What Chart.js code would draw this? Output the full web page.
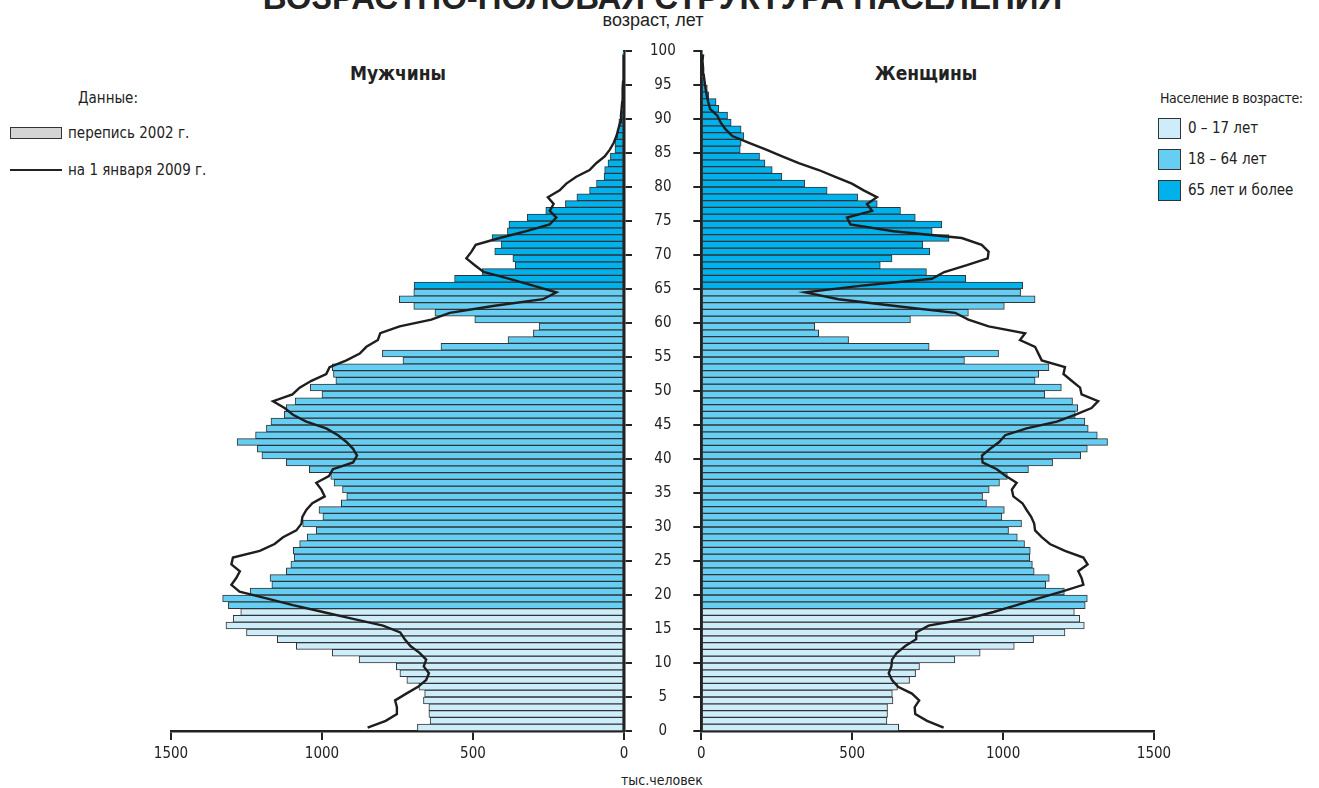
<!DOCTYPE html>
<html>
<head>
<meta charset="utf-8">
<script src="https://cdn.jsdelivr.net/npm/chart.js@4.4.1/dist/chart.umd.min.js"></script>
<style>
  body { margin: 0; width: 1319px; height: 788px; overflow: hidden; background: #fff; position: relative;
         font-family: 'Liberation Sans Narrow', 'DejaVu Sans Condensed', 'Liberation Sans', sans-serif; color: #222; }
  .t { position: absolute; white-space: nowrap; line-height: 20px; }
  canvas { position: absolute; top: 0; }
  .box { position: absolute; border: 1px solid #333; box-sizing: border-box; }
</style>
</head>
<body>
<div class="t" style="left:3px;width:1319px;text-align:center;top:-18px;font:bold 33px 'Liberation Sans',Arial,sans-serif;line-height:32px">ВОЗРАСТНО-ПОЛОВАЯ СТРУКТУРА НАСЕЛЕНИЯ</div>
<div class="t" style="left:553px;width:200px;text-align:center;top:10px;font:18px 'Liberation Sans',Arial,sans-serif">возраст, лет</div>
<div class="t" style="left:298px;width:200px;text-align:center;top:63px;font-weight:bold;font-size:19px">Мужчины</div>
<div class="t" style="left:826px;width:200px;text-align:center;top:63px;font-weight:bold;font-size:19px">Женщины</div>

<div class="t" style="left:78px;top:88px;font-size:15px">Данные:</div>
<div class="box" style="left:10px;top:127px;width:52px;height:12px;background:#d4d4d4"></div>
<div class="t" style="left:68px;top:123px;font-size:15px">перепись 2002 г.</div>
<div style="position:absolute;left:10px;top:169px;width:52px;height:2px;background:#222"></div>
<div class="t" style="left:68px;top:160px;font-size:15px">на 1 января 2009 г.</div>

<div class="t" style="left:1160px;top:88px;font-size:14px;letter-spacing:-0.4px">Население в возрасте:</div>
<div class="box" style="left:1158px;top:118px;width:23px;height:21px;background:#cdedfb"></div>
<div class="t" style="left:1188px;top:118px;font-size:15px">0 – 17 лет</div>
<div class="box" style="left:1158px;top:149px;width:23px;height:21px;background:#66cdf3"></div>
<div class="t" style="left:1188px;top:149px;font-size:15px">18 – 64 лет</div>
<div class="box" style="left:1158px;top:180px;width:23px;height:21px;background:#00b1ec"></div>
<div class="t" style="left:1188px;top:180px;font-size:15px">65 лет и более</div>

<div class="t" style="left:562px;width:200px;text-align:center;top:770px;font-size:14px">тыс.человек</div>

<canvas id="men" width="700" height="788" style="left:0"></canvas>
<canvas id="women" width="627" height="788" style="left:692px"></canvas>

<script>
// тыс. человек, возраст 0..99 (перепись 2002 г.)
const men2002 = [
  684, 642, 646, 646, 664, 660, 679, 719, 742, 754,
  877, 966, 1085, 1148, 1250, 1318, 1294, 1269, 1310, 1329,
  1238, 1166, 1172, 1118, 1103, 1092, 1095, 1074, 1049, 1019,
  1064, 997, 1010, 936, 918, 932, 960, 971, 1042, 1118,
  1199, 1214, 1281, 1220, 1184, 1169, 1125, 1118, 1089, 1000,
  1039, 954, 962, 966, 732, 800, 606, 384, 300, 281,
  494, 626, 696, 744, 696, 695, 561, 470, 360, 368,
  428, 406, 437, 386, 381, 320, 259, 194, 156, 114,
  91, 66, 64, 53, 45, 30, 30, 23, 19, 17,
  11, 8, 5, 4, 3, 2, 1, 1, 1, 1
];
const women2002 = [
  654, 615, 617, 617, 635, 633, 650, 690, 710, 723,
  840, 924, 1037, 1101, 1205, 1269, 1254, 1236, 1272, 1279,
  1203, 1141, 1153, 1103, 1097, 1088, 1090, 1071, 1047, 1018,
  1061, 996, 1004, 945, 932, 954, 988, 1014, 1084, 1164,
  1257, 1279, 1346, 1312, 1282, 1271, 1239, 1247, 1230, 1138,
  1193, 1106, 1118, 1152, 872, 985, 755, 488, 389, 376,
  693, 885, 1004, 1106, 1058, 1065, 876, 746, 593, 632,
  757, 734, 821, 765, 797, 709, 660, 583, 518, 417,
  343, 267, 235, 211, 193, 129, 132, 141, 132, 99,
  87, 58, 49, 25, 20, 11, 6, 4, 3, 2
];
// на 1 января 2009 г.
const men2009 = [
  849, 789, 752, 752, 758, 721, 682, 655, 646, 663,
  655, 677, 707, 726, 741, 798, 897, 997, 1096, 1184,
  1273, 1300, 1284, 1272, 1300, 1295, 1206, 1157, 1129, 1085,
  1068, 1065, 1052, 1032, 991, 1002, 1019, 977, 964, 897,
  884, 897, 919, 947, 986, 1052, 1096, 1124, 1162, 1098,
  1074, 1035, 986, 975, 919, 875, 853, 815, 807, 743,
  638, 577, 434, 268, 224, 301, 379, 465, 494, 522,
  505, 491, 412, 323, 246, 224, 246, 233, 252, 213,
  191, 158, 114, 92, 64, 47, 34, 25, 19, 13,
  10, 8, 6, 5, 4, 3, 2, 2, 1, 1
];
const women2009 = [
  803, 748, 709, 707, 722, 698, 652, 632, 621, 630,
  632, 648, 676, 712, 712, 753, 880, 968, 1045, 1117,
  1194, 1266, 1260, 1249, 1280, 1266, 1205, 1155, 1128, 1106,
  1103, 1093, 1078, 1064, 1034, 1029, 1045, 1009, 979, 932,
  930, 957, 987, 1007, 1078, 1178, 1238, 1293, 1315, 1260,
  1255, 1227, 1200, 1205, 1128, 1117, 1106, 1056, 1073, 952,
  885, 841, 643, 455, 345, 533, 764, 805, 880, 949,
  952, 929, 863, 637, 494, 483, 566, 549, 582, 538,
  499, 444, 389, 323, 268, 215, 158, 103, 80, 64,
  53, 29, 23, 18, 14, 11, 8, 6, 4, 6
];

const ageTicks = [0, 5, 10, 15, 20, 25, 30, 35, 40, 45, 50, 55, 60, 65, 70, 75, 80, 85, 90, 95, 100];
const valueTicks = [0, 500, 1000, 1500];
const groupLimits = [18, 65];          // 0-17, 18-64, 65+
const groupColors = ['#cdedfb', '#66cdf3', '#00b1ec'];

const labelFont = "'Liberation Sans Narrow', 'DejaVu Sans Condensed', 'Liberation Sans', sans-serif";

function ageColor(age) {
  if (age < groupLimits[0]) return groupColors[0];
  if (age < groupLimits[1]) return groupColors[1];
  return groupColors[2];
}

function pyramidSide(id, bars, line, left) {
  new Chart(document.getElementById(id), {
    type: 'bar',
    data: {
      datasets: [
        {
          type: 'line',
          data: line.map((v, i) => ({ x: v, y: i + 0.5 })),
          borderColor: '#1e1e1e',
          borderWidth: 2.4,
          pointRadius: 0,
          tension: 0,
          order: 0
        },
        {
          type: 'bar',
          data: bars.map((v, i) => ({ x: v, y: i + 0.5 })),
          backgroundColor: bars.map((v, i) => ageColor(i)),
          borderColor: '#333',
          borderWidth: 1,
          borderSkipped: false,
          categoryPercentage: 1,
          barPercentage: 1,
          order: 1
        }
      ]
    },
    options: {
      indexAxis: 'y',
      responsive: false,
      animation: false,
      devicePixelRatio: 1,
      layout: { padding: left ? { left: 171, top: 51, right: 0, bottom: 0 } : { left: 0, top: 51, right: 165, bottom: 0 } },
      plugins: { legend: { display: false }, tooltip: { enabled: false } },
      scales: {
        x: {
          type: 'linear', min: 0, max: 1500, reverse: left,
          afterBuildTicks: s => { s.ticks = valueTicks.map(v => ({ value: v })); },
          afterFit: s => { s.height = 57; },
          grid: { drawOnChartArea: false, drawTicks: true, tickLength: 9, color: '#222', lineWidth: 2 },
          border: { color: '#222', width: 2.5 },
          ticks: { padding: 5, color: '#222', font: { family: labelFont, size: 15 }, callback: v => String(v) }
        },
        y: {
          type: 'linear', min: 0, max: 100, offset: false, position: left ? 'right' : 'left',
          afterBuildTicks: s => { s.ticks = ageTicks.map(v => ({ value: v })); },
          afterFit: s => { s.width = left ? 76 : 8; },
          grid: { drawOnChartArea: false, drawTicks: true, tickLength: 8, color: '#222', lineWidth: 2, offset: false },
          border: { color: '#222', width: 2.5 },
          ticks: { display: left, crossAlign: 'center', padding: 18, color: '#222', font: { family: labelFont, size: 15 }, callback: v => String(v) }
        }
      }
    }
  });
}

pyramidSide('men', men2002, men2009, true);
pyramidSide('women', women2002, women2009, false);
</script>
</body>
</html>
